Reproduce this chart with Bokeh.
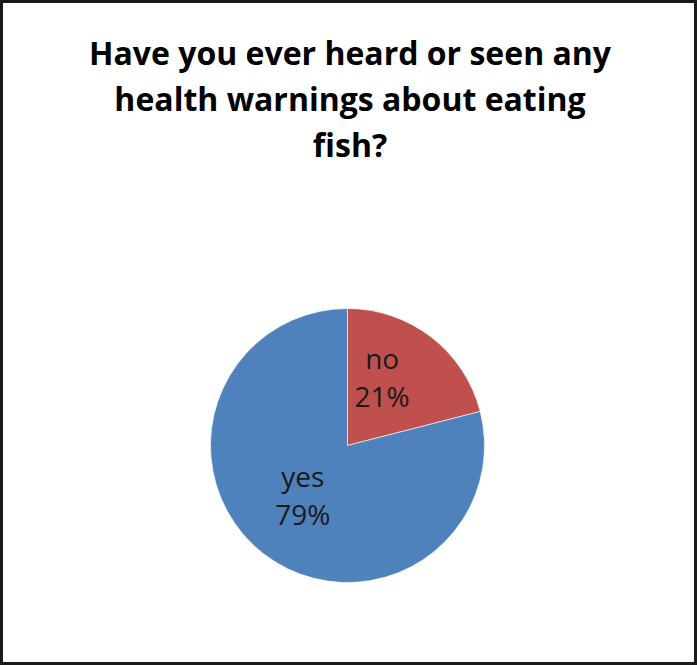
import math
from bokeh.plotting import figure
from bokeh.models import Range1d, ColumnDataSource, Label
from bokeh.core.properties import value
from bokeh.embed import file_html
from bokeh.resources import INLINE

# ---- data ----
categories = ["no", "yes"]
shares = [21, 79]
colors = ["#C0504D", "#4F81BD"]
title_lines = ["Have you ever heard or seen any", "health warnings about eating", "fish?"]

# ---- layout ----
W, H = 697, 665
cx, cy, R = 347, H - 445, 137
label_r = 0.52 * R
label_nudge = [(-9, 11), (-1, 6)]  # (dx, dy) in pixels, dy upward

total = sum(shares)
starts, ends, lx, ly, names, pcts = [], [], [], [], [], []
cum = 0.0
for cat, s, (nx, ny) in zip(categories, shares, label_nudge):
    a0 = math.pi / 2 - 2 * math.pi * cum / total
    a1 = math.pi / 2 - 2 * math.pi * (cum + s) / total
    mid = (a0 + a1) / 2
    starts.append(a0)
    ends.append(a1)
    lx.append(cx + label_r * math.cos(mid) + nx)
    ly.append(cy + label_r * math.sin(mid) + ny)
    names.append(cat)
    pcts.append(f"{round(100 * s / total)}%")
    cum += s

src = ColumnDataSource(dict(start=starts, end=ends, color=colors, lx=lx, ly=ly,
                            name=names, pct=pcts,
                            ny=[y + 20 for y in ly], py=[y - 18 for y in ly]))

p = figure(width=W, height=H, x_range=Range1d(0, W), y_range=Range1d(0, H),
           output_backend="svg", toolbar_location=None, min_border=0)
p.axis.visible = False
p.grid.visible = False
p.background_fill_color = "white"
p.border_fill_color = "white"
p.outline_line_color = "#1a1a1a"
p.outline_line_width = 5

p.wedge(x=cx, y=cy, radius=R, start_angle="start", end_angle="end", direction="clock",
        fill_color="color", line_color="white", line_width=0.6, source=src)

p.text(x="lx", y="ny", text="name", text_align="center", text_baseline="alphabetic",
       text_font=value("Open Sans"), text_font_size="28px", text_color="#1a1a1a", source=src)
p.text(x="lx", y="py", text="pct", text_align="center", text_baseline="alphabetic",
       text_font=value("Open Sans"), text_font_size="28px", text_color="#1a1a1a", source=src)

baselines = [52, 98, 144]
for t, b in zip(title_lines, baselines):
    p.add_layout(Label(x=W / 2 + 1, y=H - b, text=t, text_align="center",
                       text_baseline="alphabetic", text_font="Open Sans",
                       text_font_style="bold", text_font_size="32px", text_color="black"))

open("out.html", "w").write(file_html(p, INLINE))
